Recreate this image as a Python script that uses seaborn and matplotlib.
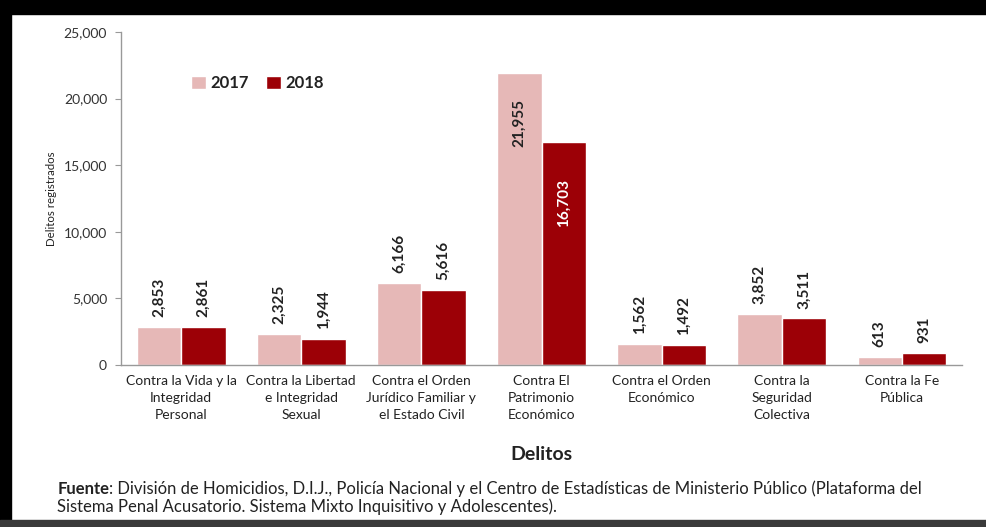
import pandas as pd
import seaborn as sns
from matplotlib import pyplot as plt
from matplotlib.patches import Rectangle
from matplotlib.transforms import offset_copy

# data
categories = [
    "Contra la Vida y la\nIntegridad\nPersonal",
    "Contra la Libertad\ne Integridad\nSexual",
    "Contra el Orden\nJurídico Familiar y\nel Estado Civil",
    "Contra El\nPatrimonio\nEconómico",
    "Contra el Orden\nEconómico",
    "Contra la\nSeguridad\nColectiva",
    "Contra la Fe\nPública",
]
years = ["2017", "2018"]
values_2017 = [2853, 2325, 6166, 21955, 1562, 3852, 613]
values_2018 = [2861, 1944, 5616, 16703, 1492, 3511, 931]
y_ticks = [0, 5000, 10000, 15000, 20000, 25000]

df = pd.DataFrame({
    "Delitos": categories * 2,
    "Año": [years[0]] * len(categories) + [years[1]] * len(categories),
    "Valor": values_2017 + values_2018,
})

sns.set_style("white")
plt.rcParams["font.family"] = ["Lato", "DejaVu Sans"]

fig = plt.figure(figsize=(9.86, 5.27), dpi=100)
ax = fig.add_axes([0.1227, 0.3074, 0.853, 0.632])

palette = {"2017": "#E6B8B7", "2018": "#9C0006"}
sns.barplot(data=df, x="Delitos", y="Valor", hue="Año", palette=palette,
            width=0.74, saturation=1, ax=ax)

ax.set_ylim(0, 25000)
ax.set_xlim(-0.5, len(categories) - 0.5)
ax.set_yticks(y_ticks)
ax.set_yticklabels([f"{v:,}" for v in y_ticks], fontsize=10, color="#333333")
ax.set_xticks(range(len(categories)))
ax.set_xticklabels(categories, fontsize=10, color="#222222", linespacing=1.5)
ax.set_xticks([i - 0.5 for i in range(len(categories) + 1)], minor=True)
ax.tick_params(axis="x", which="major", length=0, pad=7)
ax.tick_params(axis="x", which="minor", length=4, color="#999999", direction="out")
ax.tick_params(axis="y", length=4, color="#999999", direction="out", left=True, pad=6)

for side in ["top", "right"]:
    ax.spines[side].set_visible(False)
for side in ["left", "bottom"]:
    ax.spines[side].set_color("#999999")
    ax.spines[side].set_linewidth(1)

ax.set_ylabel("Delitos registrados", fontsize=8.3, color="#222222", labelpad=5)
ax.set_xlabel("Delitos", fontsize=14, fontweight="bold", color="#222222", labelpad=18)

# value labels, rotated (reading bottom to top) like the original
for container, vals in zip(ax.containers, [values_2017, values_2018]):
    for bar, v in zip(container, vals):
        x = bar.get_x() + bar.get_width() / 2
        h = bar.get_height()
        if v > 20000:
            ax.annotate(f"{v:,}", (x, h), xytext=(0, -19), textcoords="offset points",
                        rotation=90, ha="center", va="top", fontsize=11,
                        fontweight="bold", color="#222222")
        elif v > 15000:
            ax.annotate(f"{v:,}", (x, h), xytext=(0, -26), textcoords="offset points",
                        rotation=90, ha="center", va="top", fontsize=11,
                        fontweight="bold", color="white")
        else:
            ax.annotate(f"{v:,}", (x, h), xytext=(0, 7), textcoords="offset points",
                        rotation=90, ha="center", va="bottom", fontsize=11,
                        fontweight="bold", color="#222222")

leg = ax.legend(loc="upper left", bbox_to_anchor=(0.065, 0.915), ncol=2, frameon=False,
                handlelength=0.9, handleheight=0.9, handletextpad=0.3, columnspacing=1.0,
                prop={"size": 12, "weight": "bold"})
for t in leg.get_texts():
    t.set_color("#222222")

# source note: bold "Fuente" followed by regular text
t1 = fig.text(0.058, 0.063, "Fuente", fontsize=12, fontweight="bold", color="#222222")
fig.canvas.draw()
w = t1.get_window_extent().width
fig.text(0.058, 0.063, ": División de Homicidios, D.I.J., Policía Nacional y el Centro de "
         "Estadísticas de Ministerio Público (Plataforma del", fontsize=12, color="#222222",
         transform=offset_copy(fig.transFigure, fig=fig, x=w, y=0, units="dots"))
fig.text(0.058, 0.029, "Sistema Penal Acusatorio. Sistema Mixto Inquisitivo y Adolescentes).",
         fontsize=12, color="#222222")

# black frame around the picture
fig.add_artist(Rectangle((0, 1 - 14 / 527), 1, 14 / 527, transform=fig.transFigure,
                         color="black", zorder=10))
fig.add_artist(Rectangle((0, 0), 11 / 986, 1, transform=fig.transFigure,
                         color="black", zorder=10))
fig.add_artist(Rectangle((0, 0), 1, 7 / 527, transform=fig.transFigure,
                         color="#3a3a3a", zorder=10))

fig.savefig("out.png", dpi=100)
